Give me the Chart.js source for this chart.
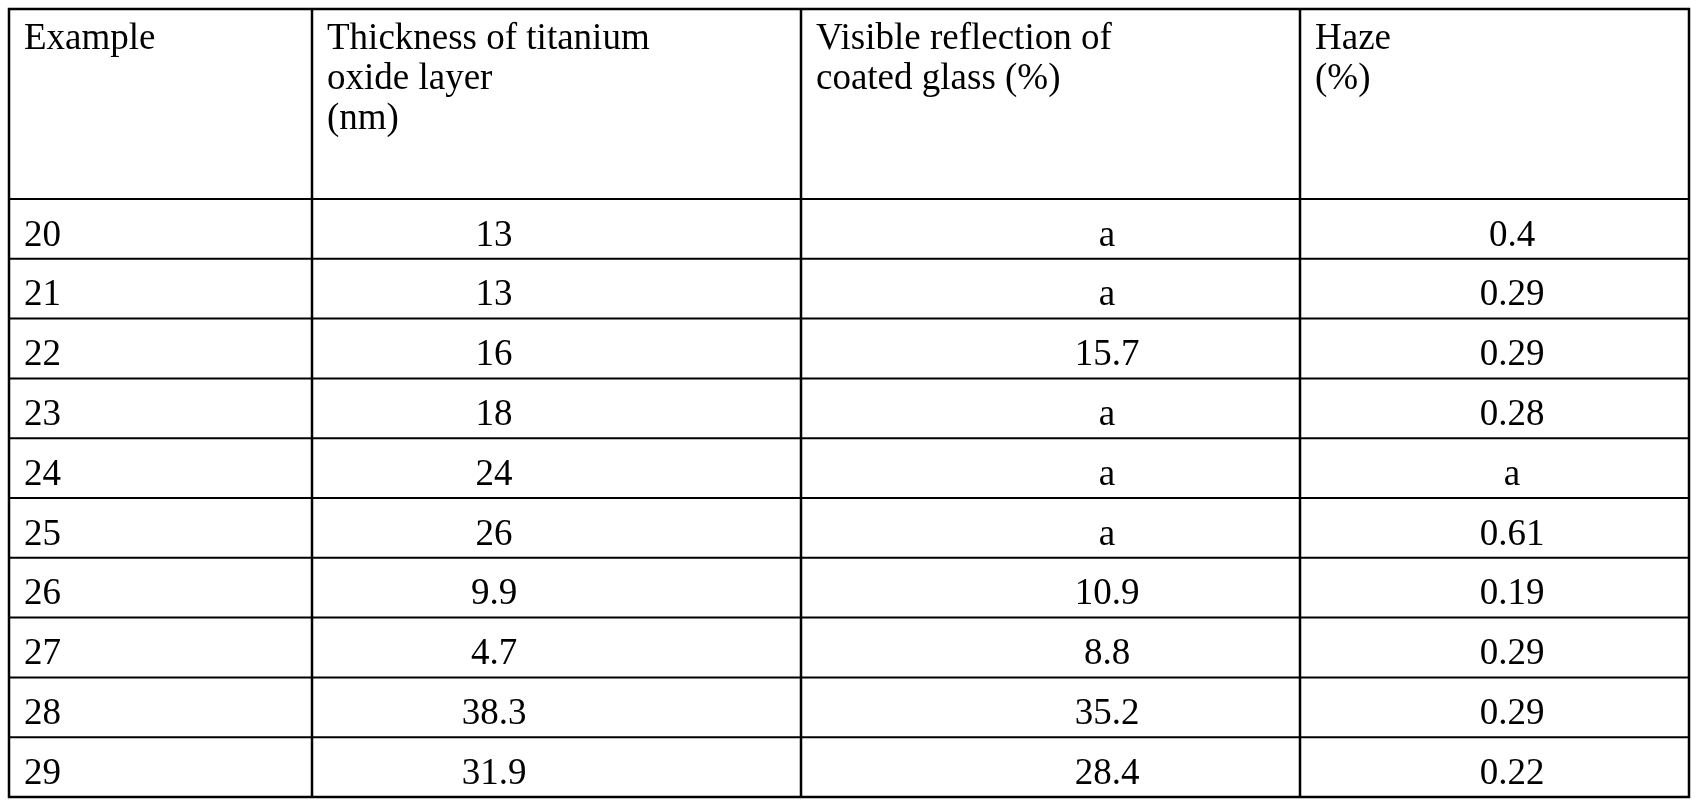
<!DOCTYPE html>
<html><head><meta charset="utf-8">
<script src="https://cdn.jsdelivr.net/npm/chart.js@4"></script>
<style>html,body{margin:0;padding:0;background:#fff}#w{width:1701px;height:808px}</style>
</head><body><div id="w"><canvas id="c"></canvas></div>
<script>
const headers = [["Example"],["Thickness of titanium","oxide layer","(nm)"],["Visible reflection of","coated glass (%)"],["Haze","(%)"]];
const examples = ["20","21","22","23","24","25","26","27","28","29"];
const thickness = ["13","13","16","18","24","26","9.9","4.7","38.3","31.9"];
const reflection = ["a","a","15.7","a","a","a","10.9","8.8","35.2","28.4"];
const haze = ["0.4","0.29","0.29","0.28","a","0.61","0.19","0.29","0.29","0.22"];

const colEdges = [9, 312, 801, 1300, 1689];
const tableTop = 9, headBottom = 199, tableBottom = 797;

const tablePlugin = {
  id: 'table',
  afterDraw(chart) {
    const ctx = chart.ctx;
    ctx.save();
    ctx.strokeStyle = '#000';
    ctx.lineWidth = 2.5;
    ctx.strokeRect(colEdges[0], tableTop, colEdges[4]-colEdges[0], tableBottom-tableTop);
    for (let i=1;i<4;i++){ctx.beginPath();ctx.moveTo(colEdges[i],tableTop);ctx.lineTo(colEdges[i],tableBottom);ctx.stroke();}
    ctx.lineWidth = 2;
    const rowH = (tableBottom-headBottom)/examples.length;
    for (let r=0;r<examples.length;r++){
      const y = headBottom + r*rowH;
      ctx.beginPath();ctx.moveTo(colEdges[0],y);ctx.lineTo(colEdges[4],y);ctx.stroke();
    }
    ctx.fillStyle = '#000';
    ctx.font = '37px "Liberation Serif", "Times New Roman", serif';
    ctx.textBaseline = 'alphabetic';
    ctx.textAlign = 'left';
    headers.forEach((lines,ci)=>{
      lines.forEach((t,li)=>ctx.fillText(t, colEdges[ci]+15, tableTop+40+li*40));
    });
    const cols = [examples, thickness, reflection, haze];
    const centers = [null, 494, 1107, 1512];
    for (let r=0;r<examples.length;r++){
      const yb = headBottom + r*rowH + rowH*0.78;
      cols.forEach((arr,ci)=>{
        if (ci===0){ctx.textAlign='left';ctx.fillText(arr[r], colEdges[0]+15, yb);}
        else {ctx.textAlign='center';ctx.fillText(arr[r], centers[ci], yb);}
      });
    }
    ctx.restore();
  }
};

new Chart(document.getElementById('c'), {
  type: 'bar',
  data: { labels: examples, datasets: [{ data: thickness.map(Number), backgroundColor: 'rgba(0,0,0,0)' }] },
  options: {
    responsive: true, maintainAspectRatio: false, animation: false,
    plugins: { legend: {display:false}, tooltip: {enabled:false} },
    scales: { x: {display:false}, y: {display:false} }
  },
  plugins: [tablePlugin]
});
</script></body></html>
